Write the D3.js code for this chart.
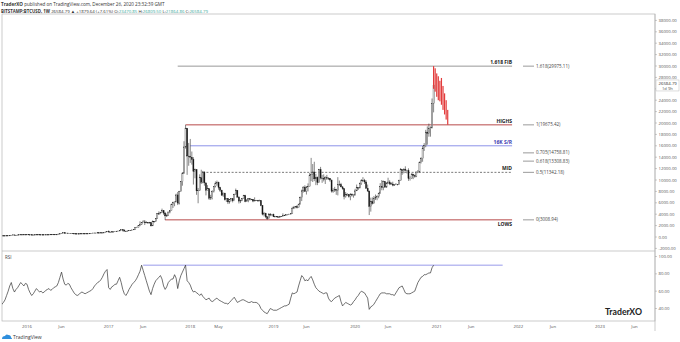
<!DOCTYPE html>
<html><head><meta charset="utf-8">
<script src="https://cdn.jsdelivr.net/npm/d3@7"></script>
<style>body{margin:0;background:#fff}svg{display:block;font-family:"Open Sans","Noto Sans",Arial,sans-serif}</style>
</head><body><svg id="c" width="680" height="342"></svg>
<script>
// ---- data ----
const firstWeek = "2015-09-07";
const closes = [
230,231,234,238, 247,263,285,325, 375,331,325,363,390, 435,437,424,430,
448,382,403,370, 375,405,435,430,405, 413,410,417,420, 420,428,460,448, 460,456,443,530,580, 670,760,660,700,
655,665,660,625, 590,567,580,570,605, 608,608,600,612, 617,640,655,700,705, 705,745,735,765, 770,790,890,995,
900,820,920,920,1020, 1000,1050,1170,1270, 1240,1040,970,1080, 1185,1175,1250,1350, 1620,1720,2040,2200,2550, 2650,2500,2560,2500,
2510,1950,2750,2730,3220, 4100,4080,4350,4600, 4200,3700,3780,4380, 4600,5700,6000,6150,7380, 5950,8000,9700,11200, 15800,19100,14200,14150,
14000,13600,11500,11800,8100, 8200,10400,9600,11400, 9500,8200,8500,6800, 6900,8000,8900,9400,9600, 8700,8200,7350,7700, 6550,6750,6150,6600,
6700,6350,7400,8200,7000, 6300,6450,6700,7270, 6200,6500,6700,6600, 6600,6300,6450,6400,6400, 6400,5500,4000,4150, 3550,3200,3950,3900,4000,
3550,3600,3550,3450, 3650,3600,3800,3780, 3920,3980,4020,4120, 5050,5150,5300,5150,5780, 6900,8100,8750,8000, 8800,8900,10800,11000,
11400,10200,10500,9550,11800, 10350,10300,10150,10400, 10350,10300,10000,8050,8200, 8300,8200,9250,9200, 8800,8500,7100,7400, 7450,7100,7500,7350,7350,
8100,8650,8600,9350, 9900,9900,9650,8550, 8050,5350,6200,5900,6800, 6900,7150,7700,8900, 8700,9700,8750,9450, 9650,9350,9300,9100,9250,
9250,9200,9900,11800, 11650,11900,11700,11700,10250, 10300,11050,10750,10650, 11400,11400,13050,13750, 15500,16000,18400,18200,19000, 19150,23470.85,26584.79
];
const highs = [
244,235,238,241, 250,270,290,335, 500,385,340,370,420, 470,465,445,445,
462,455,415,400, 390,410,440,440,440, 420,420,420,425, 425,432,465,468, 465,462,458,535,590, 700,780,770,710,
700,675,680,660, 625,600,585,585,610, 612,612,610,615, 620,645,660,715,745, 720,755,750,775, 780,795,900,1000,
1150,840,930,925,1035, 1070,1060,1190,1290, 1300,1260,1060,1100, 1200,1210,1260,1360, 1650,1800,2100,2760,2600, 2950,2980,2770,2600,
2650,2600,2900,2800,3300, 4200,4500,4400,4980, 4700,4400,4100,4420, 4650,5860,6190,6200,7600, 7900,8100,9800,11400, 16800,19675,19000,16500,
17200,15000,14000,12000,11500, 8600,11000,11800,11600, 11500,9500,9100,8400, 7400,8200,8950,9750,9900, 9700,8800,8300,7800, 7750,6800,6800,6650,
6800,6750,7600,8500,8200, 7150,6550,6800,7400, 7400,6600,6800,6790, 6690,6650,6950,6500,6500, 6550,6450,5500,4400, 4250,3600,4200,4200,4050,
4100,3700,3650,3550, 3700,3680,4150,3900, 3950,4000,4050,4150, 5300,5450,5350,5600,5800, 7100,8300,8900,9070, 8900,9400,11200,13880,
12800,13200,11100,10600,11950, 12300,10900,11000,10650, 10900,10450,10300,10050,8550, 8800,8450,10500,9900, 9500,8900,8500,7900, 7700,7550,7700,7650,7500,
8450,9200,8700,9550, 10150,10500,10200,9950, 9200,8150,6900,6950,7200, 7450,7300,7750,9450, 10000,9900,9800,9600, 10400,9950,9600,9700,9300,
9450,9300,10050,12100, 11900,12050,12400,11800,12050, 10650,11150,10800,10950, 11450,11750,13250,14000, 15950,16480,18800,19400,19900, 19400,24300,26809.5
];
const lows = [
228,225,226,234, 235,245,262,282, 320,300,315,315,355, 385,428,410,415,
420,360,350,365, 365,375,400,400,395, 400,405,408,410, 415,418,425,440, 440,445,435,440,520, 570,660,560,610,
610,640,645,580, 480,565,565,565,565, 600,600,590,595, 605,615,630,650,680, 690,690,725,725, 755,770,790,890,
750,750,810,880,915, 940,990,1040,1170, 980,950,890,940, 1050,1160,1170,1250, 1350,1600,1720,1900,2100, 2550,2100,2450,2300,
2450,1860,1950,2500,2650, 3200,3900,4000,4300, 3900,2970,3500,3750, 4150,4580,5100,5400,6100, 5600,5700,8000,9000, 11100,15500,10900,12500,
13000,12700,9200,10300,7400, 5920,8100,9300,9400, 9000,7300,8300,6500, 6500,6600,7800,8700,9000, 8300,7900,7200,7050, 6400,6150,5780,5850,
6250,6070,6300,7400,6900, 5880,5950,6300,6700, 6100,6150,6100,6400, 6500,6100,6300,6350,6250, 6350,5400,3800,3600, 3300,3010,3200,3650,3650,
3500,3480,3490,3350, 3380,3550,3600,3700, 3680,3800,3900,3950, 4100,4900,5050,5000,5200, 5700,6300,7800,7900, 7450,8000,8900,9800,
9650,9800,9100,9100,9500, 10100,9500,9750,9300, 10000,10000,9700,7800,7750, 7900,7400,7300,8950, 8700,8300,6600,6900, 7200,6900,6450,7100,6900,
7300,8050,8250,8550, 9150,9700,9300,8450, 8000,3850,4450,5700,5900, 6500,6450,6800,7600, 8200,8200,8650,8650, 9300,9100,9200,8900,8950,
9150,9050,9150,9900, 10900,11150,11500,11150,9850, 9900,10250,10150,10400, 10500,11200,11350,12900, 13200,15100,15750,16200,17600, 17600,19050,21864.86
];
const rsi = [
41.5,45,47,50,55,60,66,70,63,59, 62,64,67,70,68,66,69,68,62,58, 55,57,60,63,61,59,60,58,59,61, 62,63,61,62,64,65,66,70,76,82,
74,68,67,69,68,64,61,58,56,55, 56,58,59,58,57,58,59,60,61,63, 66,68,70,71,73,76,80,83,85,64, 62,65,66,68,68,72,76,70,62,57,
55,58,62,65,68,70,72,75,79,83, 90,84,78,72,66,60,56,63,68,72, 74,76,78,74,66,62,65,70,72,74, 74,79,75,63,72,78,82,86,90,72,
70,67,62,59,60,58,57,55,57,54, 52,50,51,52,49,48,49,51,52,50, 49,48,47,46,46,45,47,49,51,53, 50,47,48,49,50,50,49,48,47,47,
48,47,47,47,46,44,40,38,36,35, 34,37,40,39,38,38,38,39,40,41, 42,43,43,44,45,52,58,57,58,59, 66,72,78,76,72,73,72,75,77,73,
68,64,62,60,59,58,57,58,58,52, 49,48,50,52,53,54,55,48,43,45, 47,46,45,44,45,48,50,53,55,58, 60,59,58,55,52,39,42,43,45,48,
51,54,57,58,58,58,57,57,57,56, 56,55,58,61,64,65,66,62,58,57, 57,57,58,59,60,65,70,73,76,77, 79,79,80,81,81,87,90
];
// projected (red) path
const projFirstWeek = "2020-12-21";
const projHighs = [29975, 29600, 28700, 28200, 27400, 27900, 26500, 25200, 24000, 22300];
const projLows  = [26000, 25500, 24600, 24000, 23800, 23200, 22300, 21500, 20600, 19700];
// horizontal levels
const levelNames  = ["1.618 FIB", "HIGHS", "16K S/R", "MID", "LOWS"];
const levelValues = [29975.11, 19675.42, 16000, 11342.18, 3008.94];
const levelStarts = ["2017-11-06", "2017-12-11", "2018-01-01", "2018-02-26", "2017-09-11"];
const levelEnd = "2021-12-06";
const fibRatios = ["1.618", "1", "0.705", "0.618", "0.5", "0"];
const fibValues = [29975.11, 19675.42, 14758.81, 13308.83, 11342.18, 3008.94];
const rsiLevel = 90;
const rsiLevelStart = "2017-06-05", rsiLevelEnd = "2021-10-25";
const priceTicks = d3.range(-2000, 38001, 2000);
const rsiTicks = [100, 80, 60, 40];
const timeTickDates = ["2016-01-04","2016-06-06","2017-01-02","2017-06-05","2018-01-01","2018-05-07","2019-01-07","2019-06-03",
  "2020-01-06","2020-06-01","2021-01-04","2021-06-07","2022-01-03","2022-06-06","2023-01-02","2023-06-05"];
const timeTickLabels = ["2016","Jun","2017","Jun","2018","May","2019","Jun","2020","Jun","2021","Jun","2022","Jun","2023","Jun"];
const lastPrice = 26584.79;

// ---- drawing ----
const P = d3.utcParse("%Y-%m-%d");
const svg = d3.select("#c");
const L = 2, R = 655, T = 14, MB = 251, RT = 251, RB = 321;
const x = d3.scaleUtc().domain([P("2016-01-04"), P("2023-01-02")]).range([27, 600]);
const y = d3.scaleLinear().domain([-2000, 38000]).range([248.4, 20.4]);
const yr = d3.scaleLinear().domain([40, 100]).range([308.5, 256.5]);
const w0 = P(firstWeek);
const dates = closes.map((_, i) => d3.utcDay.offset(w0, 7 * i));

// header
const h1 = svg.append("text").attr("x", 1).attr("y", 6).attr("font-size", 4.6).attr("fill", "#333");
h1.append("tspan").attr("font-weight", 700).text("TraderXO");
h1.append("tspan").text(" published on TradingView.com, December 26, 2020 23:32:39 GMT");
const h2 = svg.append("text").attr("x", 1).attr("y", 12.5).attr("font-size", 4.35).attr("fill", "#333");
h2.append("tspan").attr("font-weight", 700).text("BITSTAMP:BTCUSD, 1W ");
h2.append("tspan").text("26584.79 \u25B2 +1879.64 (+7.61%) ");
const ohlc = [["O:", "23470.85"], ["H:", "26809.50"], ["L:", "21864.86"], ["C:", "26584.79"]];
ohlc.forEach(([k, v]) => { h2.append("tspan").text(k); h2.append("tspan").attr("fill", "#3aa89a").text(v + " "); });

// clip
svg.append("clipPath").attr("id", "mclip").append("rect").attr("x", L).attr("y", T).attr("width", R - L).attr("height", MB - T);
svg.append("clipPath").attr("id", "rclip").append("rect").attr("x", L).attr("y", RT).attr("width", R - L).attr("height", RB - RT);

// frames
const frame = svg.append("g").attr("fill", "none").attr("stroke", "#b5b5b5").attr("stroke-width", 0.7);
frame.append("rect").attr("x", L).attr("y", T).attr("width", R - L).attr("height", RB - T);
frame.append("line").attr("x1", L).attr("x2", R).attr("y1", MB).attr("y2", MB);
frame.append("line").attr("x1", R).attr("x2", R).attr("y1", T).attr("y2", 331);

const main = svg.append("g").attr("clip-path", "url(#mclip)");
// levels
const lvlColors = ["#8c8c8c", "#b03535", "#7f86e6", "#6a6a6a", "#b03535"];
levelValues.forEach((v, i) => {
  main.append("line").attr("x1", x(P(levelStarts[i]))).attr("x2", x(P(levelEnd)))
    .attr("y1", y(v)).attr("y2", y(v)).attr("stroke", lvlColors[i]).attr("stroke-width", 0.9)
    .attr("stroke-dasharray", levelNames[i] === "MID" ? "2,1.6" : null);
  const below = levelNames[i] === "LOWS";
  main.append("text").attr("x", x(P(levelEnd))).attr("y", below ? y(v) + 6.5 : y(v) - 2)
    .attr("text-anchor", "end").attr("font-size", 5).attr("font-weight", 700)
    .attr("fill", levelNames[i] === "16K S/R" ? "#3b3bb0" : "#222").text(levelNames[i]);
});
fibValues.forEach((v, i) => {
  main.append("line").attr("x1", 523).attr("x2", 534).attr("y1", y(v)).attr("y2", y(v)).attr("stroke", "#555").attr("stroke-width", 0.6);
  main.append("text").attr("x", 536).attr("y", y(v)).attr("dy", "0.35em").attr("font-size", 4.5).attr("fill", "#444")
    .text(fibRatios[i] + "(" + fibValues[i].toFixed(2) + ")");
});

// candles
const bw = 1.1;
closes.forEach((c, i) => {
  const o = i ? closes[i - 1] : c;
  const cx = x(dates[i]);
  main.append("line").attr("x1", cx).attr("x2", cx).attr("y1", y(highs[i])).attr("y2", y(lows[i]))
    .attr("stroke", "#222").attr("stroke-width", 0.55);
  const top = y(Math.max(o, c)), bot = y(Math.min(o, c));
  main.append("rect").attr("x", cx - bw / 2).attr("y", top).attr("width", bw).attr("height", Math.max(0.5, bot - top))
    .attr("fill", c >= o ? "#fff" : "#111").attr("stroke", "#222").attr("stroke-width", 0.35);
});
// projection
const pw = P(projFirstWeek);
projHighs.forEach((h, i) => {
  const cx = x(d3.utcDay.offset(pw, 7 * i));
  main.append("rect").attr("x", cx - 0.6).attr("y", y(h)).attr("width", 1.2).attr("height", y(projLows[i]) - y(h))
    .attr("fill", "#e23b3b");
});

// price axis
const pa = svg.append("g");
const lp = y(lastPrice);
priceTicks.forEach(v => {
  pa.append("line").attr("x1", R).attr("x2", R + 2).attr("y1", y(v)).attr("y2", y(v)).attr("stroke", "#999").attr("stroke-width", 0.5);
  if (Math.abs(y(v) - lp) < 7.5) return; // hidden behind the last-price label
  pa.append("text").attr("x", R + 3.5).attr("y", y(v)).attr("dy", "0.35em").attr("font-size", 4.3).attr("fill", "#555").text(v.toFixed(2));
});
pa.append("rect").attr("x", R + 1).attr("y", lp - 5.5).attr("width", 23).attr("height", 11).attr("fill", "#fff").attr("stroke", "#bbb").attr("stroke-width", 0.5);
pa.append("text").attr("x", R + 3.5).attr("y", lp - 2.4).attr("dy", "0.35em").attr("font-size", 4.3).attr("fill", "#333").text(lastPrice.toFixed(2));
pa.append("text").attr("x", R + 7).attr("y", lp + 2.6).attr("dy", "0.35em").attr("font-size", 4.1).attr("fill", "#555").text("1d 9h");

// RSI
const rg = svg.append("g").attr("clip-path", "url(#rclip)");
rg.append("line").attr("x1", x(P(rsiLevelStart))).attr("x2", x(P(rsiLevelEnd))).attr("y1", yr(rsiLevel)).attr("y2", yr(rsiLevel))
  .attr("stroke", "#8c8ee8").attr("stroke-width", 0.9);
rg.append("path").datum(rsi).attr("fill", "none").attr("stroke", "#333").attr("stroke-width", 0.7)
  .attr("d", d3.line().x((d, i) => x(dates[i])).y(d => yr(d)));
svg.append("text").attr("x", 5).attr("y", 257).attr("dy", "0.35em").attr("font-size", 4.5).attr("fill", "#444").text("RSI");
rsiTicks.forEach(v => {
  svg.append("line").attr("x1", R).attr("x2", R + 2).attr("y1", yr(v)).attr("y2", yr(v)).attr("stroke", "#999").attr("stroke-width", 0.5);
  svg.append("text").attr("x", R + 3.5).attr("y", yr(v)).attr("dy", "0.35em").attr("font-size", 4.3).attr("fill", "#555").text(v.toFixed(2));
});
svg.append("text").attr("x", 623.5).attr("y", 315).attr("text-anchor", "middle").attr("font-family", "Lato, 'Open Sans', sans-serif")
  .attr("font-size", 10).attr("font-weight", 700).attr("fill", "#222").attr("textLength", 37).attr("lengthAdjust", "spacingAndGlyphs").text("TraderXO");

// time axis
timeTickDates.forEach((d, i) => {
  svg.append("text").attr("x", x(P(d))).attr("y", 326.5).attr("dy", "0.35em").attr("text-anchor", "middle")
    .attr("font-size", 4.3).attr("fill", "#555").text(timeTickLabels[i]);
});

// TradingView footer
const tv = svg.append("g");
tv.append("path").attr("d", "M2,339 q0,-3 3,-3 q1,-2.5 3.5,-1 q2.5,0 2.5,2.5 q1,0.3 1,1.5 z").attr("fill", "#2f8fdd");
tv.append("text").attr("x", 13).attr("y", 337.5).attr("dy", "0.35em").attr("font-size", 5).attr("fill", "#333").text("TradingView");
</script>
</body></html>
